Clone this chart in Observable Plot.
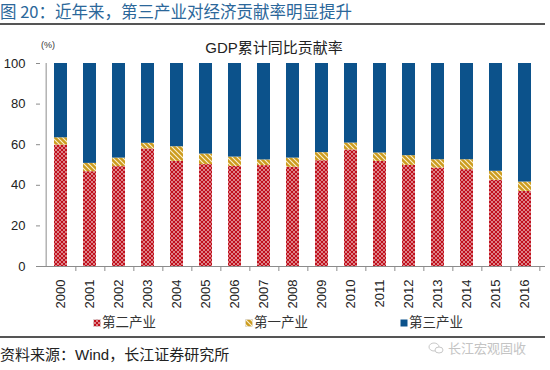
<!DOCTYPE html>
<html>
<head>
<meta charset="utf-8">
<script src="https://cdn.jsdelivr.net/npm/d3@7"></script>
<script src="https://cdn.jsdelivr.net/npm/@observablehq/plot@0.6"></script>
<style>
  body { margin: 0; background: #fff; width: 550px; height: 370px; position: relative; overflow: hidden;
         font-family: "Liberation Sans", "Noto Sans CJK SC", sans-serif; color: #222; }
  .abs { position: absolute; white-space: nowrap; }
  #title { left: 0; top: 1px; font-size: 16.5px; color: #2b679a; font-family: "Noto Sans CJK SC", "Liberation Sans", sans-serif; line-height: 20px; }
  .hline { position: absolute; left: 0; width: 545px; height: 1.5px; background: #555; }
  #unit { left: 41px; top: 40px; font-size: 9px; color: #333; }
  #ctitle { left: 274px; top: 38px; transform: translateX(-50%); font-size: 15px; line-height: 20px; color: #222; }
  #chart { position: absolute; left: 0; top: 0; }
  .leg { position: absolute; top: 314px; font-size: 13.5px; line-height: 18px; display: flex; align-items: center; color: #333; }
  .leg svg { margin-right: 1px; }
  #source { left: 0; top: 345px; font-size: 15px; line-height: 20px; color: #222; }
  #wm { left: 428px; top: 338px; font-size: 13px; color: #c4c4c4; display: flex; align-items: center; }
</style>
</head>
<body>
<svg width="0" height="0" style="position:absolute">
  <defs>
    <pattern id="patRed" width="4" height="4" patternUnits="userSpaceOnUse">
      <rect width="4" height="4" fill="#c0101c"></rect>
      <path d="M0 2 L2 0 L4 2 L2 4 Z" fill="none" stroke="#f6e2e2" stroke-width="0.55"></path>
    </pattern>
    <pattern id="patYel" width="5" height="5" patternUnits="userSpaceOnUse">
      <rect width="5" height="5" fill="#cc9c1e"></rect>
      <path d="M-1 -1 L6 6 M-1 4 L1 6 M4 -1 L6 1" stroke="#fbf1d2" stroke-width="1.1"></path>
    </pattern>
  </defs>
</svg>

<div id="title" class="abs">图 20：近年来，第三产业对经济贡献率明显提升</div>
<div class="hline" style="top:23px"></div>
<div id="chart"></div>
<div id="unit" class="abs">(%)</div>
<div id="ctitle" class="abs">GDP累计同比贡献率</div>
<div id="legend"></div>
<div class="hline" style="top:336px"></div>
<div id="source" class="abs">资料来源：Wind，长江证券研究所</div>
<div id="wm" class="abs"><svg width="16" height="12" style="margin-right:4px"><ellipse cx="6" cy="5" rx="5" ry="4" fill="none" stroke="#c8c8c8"></ellipse><ellipse cx="11" cy="8" rx="4" ry="3" fill="#fff" stroke="#c8c8c8"></ellipse></svg>长江宏观固收</div>

<script>
const years = ["2000","2001","2002","2003","2004","2005","2006","2007","2008","2009","2010","2011","2012","2013","2014","2015","2016"];
const seriesNames = ["第二产业", "第一产业", "第三产业"];
const secondInd = [59.8, 46.7, 49.2, 57.9, 51.8, 50.2, 49.3, 49.7, 48.9, 52.1, 57.4, 51.8, 49.8, 48.5, 47.7, 42.5, 37.0];
const firstInd  = [3.6, 4.1, 4.2, 2.8, 7.2, 5.2, 4.6, 2.8, 4.5, 4.0, 3.4, 4.1, 4.8, 4.1, 4.9, 4.4, 4.6];
const thirdInd  = [36.6, 49.2, 46.6, 39.3, 41.0, 44.6, 46.1, 47.5, 46.6, 43.9, 39.2, 44.1, 45.4, 47.4, 47.4, 53.1, 58.4];
const yTicks = [0, 20, 40, 60, 80, 100];

const seriesFills = ["url(#patRed)", "url(#patYel)", "#0c528b"];

const data = [];
years.forEach((yr, i) => {
  data.push({year: yr, series: seriesNames[0], value: secondInd[i]});
  data.push({year: yr, series: seriesNames[1], value: firstInd[i]});
  data.push({year: yr, series: seriesNames[2], value: thirdInd[i]});
});

const W = 550, H = 310, mL = 40, mR = 5, mT = 63, mB = 44;
const step = (W - mL - mR) / years.length;
const axisColor = "#8c8c8c";

const chart = Plot.plot({
  width: W, height: H,
  marginTop: mT, marginBottom: mB, marginLeft: mL, marginRight: mR,
  style: {fontFamily: "'Liberation Sans', 'Noto Sans CJK SC', sans-serif", fontSize: "13px", color: "#222", background: "transparent", overflow: "visible"},
  x: {domain: years, paddingInner: 0.56, paddingOuter: 0.28, label: null, tickSize: 0, tickRotate: -90, tickPadding: 13},
  y: {domain: [0, 100], ticks: yTicks, label: null, tickSize: 4, tickPadding: 11},
  color: {type: "ordinal", domain: seriesNames, range: seriesFills},
  marks: [
    Plot.barY(data, {x: "year", y: "value", fill: "series"}),
    Plot.ruleY([0], {stroke: axisColor}),
    Plot.ruleX(["2000"], {x: d => d, dx: -step / 2, stroke: axisColor}),
    Plot.ruleX(years, {x: d => d, dx: step / 2, y1: 0, y2: 0, insetTop: 0, insetBottom: -5, stroke: axisColor})
  ]
});
chart.querySelectorAll("[aria-label='y-axis'] line, [aria-label='y-axis tick'] path").forEach(el => el.setAttribute("stroke", axisColor));
document.getElementById("chart").appendChild(chart);

// legend
const legendPos = [{x: 93, fill: seriesFills[0]}, {x: 245, fill: seriesFills[1]}, {x: 400, fill: seriesFills[2]}];
const legend = document.getElementById("legend");
seriesNames.forEach((name, i) => {
  const d = document.createElement("div");
  d.className = "leg";
  d.style.left = legendPos[i].x + "px";
  d.innerHTML = `<svg width="8" height="8"><rect width="7" height="7" x="0.5" y="0.5" fill="${legendPos[i].fill}" stroke="${i===2?'none':'#d8d8d8'}" stroke-width="0.5"></rect></svg>${name}`;
  legend.appendChild(d);
});
</script>
</body>
</html>
